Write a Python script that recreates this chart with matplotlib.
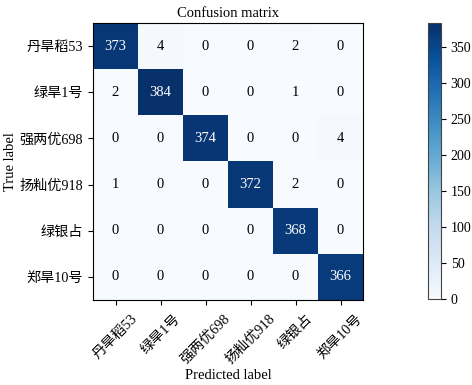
import numpy as np
import matplotlib
matplotlib.use("Agg")
import matplotlib.pyplot as plt

plt.rcParams['font.family'] = ['Liberation Serif', 'Noto Sans CJK SC', 'DejaVu Sans']
plt.rcParams['font.size'] = 10

classes = ["丹旱稻53", "绿旱1号", "强两优698", "扬籼优918", "绿银占", "郑旱10号"]
row0 = [373, 4, 0, 0, 2, 0]
row1 = [2, 384, 0, 0, 1, 0]
row2 = [0, 0, 374, 0, 0, 4]
row3 = [1, 0, 0, 372, 2, 0]
row4 = [0, 0, 0, 0, 368, 0]
row5 = [0, 0, 0, 0, 0, 366]
cm = np.array([row0, row1, row2, row3, row4, row5])

fig = plt.figure(figsize=(4.72, 3.85), dpi=100)
ax = fig.add_axes([93/472, 1-300/385, 270/472, 277/385])
im = ax.imshow(cm, interpolation='nearest', cmap=plt.cm.Blues, aspect='auto')
ax.set_title("Confusion matrix", fontsize=10.5, pad=4)
cax = fig.add_axes([428/472, 1-299/385, 13/472, 276/385])
cb = fig.colorbar(im, cax=cax)
cb.ax.tick_params(labelsize=10)
cb.outline.set_edgecolor('#444444')

ticks = np.arange(len(classes))
ax.set_xticks(ticks)
ax.set_xticklabels(classes, rotation=45, fontsize=10.2)
ax.set_yticks(ticks)
ax.set_yticklabels(classes, fontsize=10.2)
ax.tick_params(axis='x', pad=5)

thresh = cm.max() / 2.
for i in range(cm.shape[0]):
    for j in range(cm.shape[1]):
        ax.text(j, i, format(cm[i, j], 'd'), ha='center', va='center',
                color='white' if cm[i, j] > thresh else 'black', fontsize=10.5)

ax.set_ylabel('True label', fontsize=10.5)
ax.set_xlabel('Predicted label', fontsize=10.5)
ax.yaxis.set_label_coords(-0.282, 0.5)
ax.xaxis.set_label_coords(0.5, -0.25)

fig.savefig('out.png', dpi=100)
